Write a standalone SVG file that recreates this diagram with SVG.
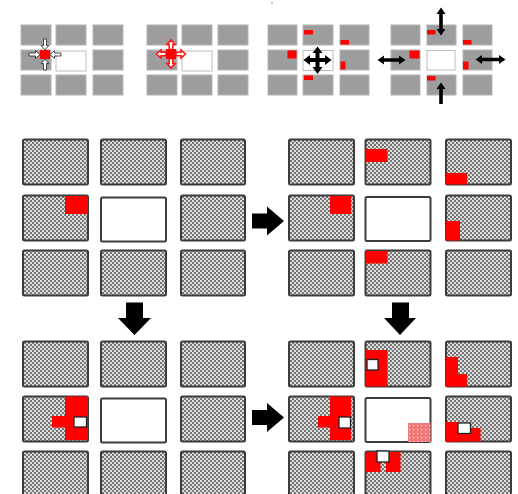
<svg xmlns="http://www.w3.org/2000/svg" xmlns:xlink="http://www.w3.org/1999/xlink" width="518" height="494" viewBox="0 0 518 494">
<defs>
<pattern id="chk" width="4" height="4" patternUnits="userSpaceOnUse">
<rect width="4" height="4" fill="#767676"/>
<rect width="2" height="2" fill="#dedede"/>
<rect x="2" y="2" width="2" height="2" fill="#dedede"/>
</pattern>
<pattern id="pink" width="4" height="4" patternUnits="userSpaceOnUse">
<rect width="4" height="4" fill="#f07a7a"/>
<rect x="1" y="1" width="1.2" height="1.2" fill="#fbd0d0"/>
</pattern>
<path id="inArrow" d="M-11,-1.5 H-4.5 V-3.8 L0,0 L-4.5,3.8 V1.5 H-11 Z"/>
<path id="outArrow" d="M0,-1.8 H5 V-4 L9.5,0 L5,4 V1.8 H0 Z"/>
</defs>
<style>
.t{fill:url(#chk);stroke:#3c3c3c;stroke-width:2}
.w{fill:#fff;stroke:#3c3c3c;stroke-width:2}
.s{fill:#9d9d9d;stroke:#b4b4b4;stroke-width:1}
.sw{fill:#fff;stroke:#bdbdbd;stroke-width:1}
.r{fill:#ff0000}
.ws{fill:#fff;stroke:#222;stroke-width:1.3}
.ia{fill:#fff;stroke:#222;stroke-width:0.8}
.oa{fill:#fff;stroke:#ff1010;stroke-width:1.5}
.ba{fill:#000}
</style>
<rect width="518" height="494" fill="#fff"/>
<circle cx="272" cy="3" r="0.8" fill="#777"/>

<!-- small diagram 1 -->
<g id="mini-1">
<rect class="s" x="21" y="25" width="30" height="20"/>
<rect class="s" x="56" y="25" width="30" height="20"/>
<rect class="s" x="93" y="25" width="30" height="20"/>
<rect class="s" x="21" y="50" width="30" height="20"/>
<rect class="sw" x="56" y="51" width="30" height="20"/>
<rect class="s" x="93" y="50" width="30" height="20"/>
<rect class="s" x="21" y="75" width="30" height="20"/>
<rect class="s" x="56" y="75" width="30" height="20"/>
<rect class="s" x="93" y="75" width="30" height="20"/>
<rect class="r" x="40" y="50" width="10" height="9"/>
<use href="#inArrow" class="ia" transform="translate(40,54.5)"/>
<use href="#inArrow" class="ia" transform="translate(50,54.5) rotate(180)"/>
<use href="#inArrow" class="ia" transform="translate(45,50) rotate(90)"/>
<use href="#inArrow" class="ia" transform="translate(45,59) rotate(-90)"/>
</g>

<!-- small diagram 2 -->
<g id="mini-2">
<rect class="s" x="147" y="25" width="30" height="20"/>
<rect class="s" x="182" y="25" width="30" height="20"/>
<rect class="s" x="218" y="25" width="30" height="20"/>
<rect class="s" x="147" y="50" width="30" height="20"/>
<rect class="sw" x="182" y="51" width="30" height="20"/>
<rect class="s" x="218" y="50" width="30" height="20"/>
<rect class="s" x="147" y="75" width="30" height="20"/>
<rect class="s" x="182" y="75" width="30" height="20"/>
<rect class="s" x="218" y="75" width="30" height="20"/>
<use href="#outArrow" class="oa" transform="translate(176,54)"/>
<use href="#outArrow" class="oa" transform="translate(166,54) rotate(180)"/>
<use href="#outArrow" class="oa" transform="translate(171,49.5) rotate(-90)"/>
<use href="#outArrow" class="oa" transform="translate(171,58.5) rotate(90)"/>
<rect class="r" x="166" y="49" width="10" height="10"/>
</g>

<!-- small diagram 3 -->
<g id="mini-3">
<rect class="s" x="268" y="25" width="29" height="20"/>
<rect class="s" x="303" y="25" width="30" height="20"/>
<rect class="s" x="340" y="25" width="29" height="20"/>
<rect class="s" x="268" y="50" width="29" height="20"/>
<rect class="sw" x="303" y="50.5" width="30" height="20"/>
<rect class="s" x="340" y="50" width="29" height="20"/>
<rect class="s" x="268" y="75" width="29" height="20"/>
<rect class="s" x="303" y="75" width="30" height="20"/>
<rect class="s" x="340" y="75" width="29" height="20"/>
<rect class="r" x="304" y="30" width="9" height="4.5"/>
<rect class="r" x="340.5" y="40" width="8.5" height="4.5"/>
<rect class="r" x="287.5" y="50.5" width="9" height="8"/>
<rect class="r" x="340.5" y="61.5" width="5" height="8"/>
<rect class="r" x="304" y="75.5" width="9" height="4.5"/>
<path class="ba" d="M303.5,60 L310,55 V58 H325 V55 L331.5,60 L325,65 V62 H310 V65 Z"/>
<path class="ba" d="M317.5,46.5 L322.5,53 H319.5 V67 H322.5 L317.5,74 L312.5,67 H315.5 V53 H312.5 Z"/>
</g>

<!-- small diagram 4 -->
<g id="mini-4">
<rect class="s" x="391" y="25" width="29" height="20"/>
<rect class="s" x="427" y="25" width="29" height="20"/>
<rect class="s" x="463" y="25" width="29" height="20"/>
<rect class="s" x="391" y="50" width="29" height="20"/>
<rect class="sw" x="427" y="50.5" width="28" height="19.5"/>
<rect class="s" x="463" y="50" width="29" height="20"/>
<rect class="s" x="391" y="75" width="29" height="20"/>
<rect class="s" x="427" y="75" width="29" height="20"/>
<rect class="s" x="463" y="75" width="29" height="20"/>
<rect class="r" x="427" y="30" width="8.5" height="4.5"/>
<rect class="r" x="463" y="40" width="8.5" height="4.5"/>
<rect class="r" x="409.5" y="50.5" width="10" height="8"/>
<rect class="r" x="463" y="61.5" width="5.5" height="8"/>
<rect class="r" x="427" y="76" width="8.5" height="4.5"/>
<path class="ba" d="M441,7.5 L445.5,14 H442.8 V29 H445.5 L441,35.5 L436.5,29 H439.2 V14 H436.5 Z"/>
<path class="ba" d="M377.5,60 L384,55.5 V58.2 H399 V55.5 L405.5,60 L399,64.5 V61.8 H384 V64.5 Z"/>
<path class="ba" d="M475.5,59.5 L482,55 V57.7 H499 V55 L505.5,59.5 L499,64 V61.3 H482 V64 Z"/>
<path class="ba" d="M441,82.5 L445.5,89 H442.8 V104 H439.2 V89 H436.5 Z"/>
</g>

<!-- big panel A (top left) -->
<g id="panel-a">
<rect class="t" x="23" y="139.5" width="65" height="45" rx="1.5"/>
<rect class="t" x="101" y="139.5" width="65" height="45" rx="1.5"/>
<rect class="t" x="181" y="139.5" width="64" height="45" rx="1.5"/>
<rect class="t" x="23" y="195.5" width="65" height="45" rx="1.5"/>
<rect class="w" x="101" y="197.5" width="65" height="44" rx="1.5"/>
<rect class="t" x="181" y="195.5" width="64" height="45" rx="1.5"/>
<rect class="t" x="23" y="250.5" width="65" height="45" rx="1.5"/>
<rect class="t" x="101" y="250.5" width="65" height="45" rx="1.5"/>
<rect class="t" x="181" y="250.5" width="64" height="45" rx="1.5"/>
<rect class="r" x="65" y="196" width="23" height="18"/>
</g>

<!-- big panel B (top right) -->
<g id="panel-b">
<rect class="t" x="289" y="139.5" width="65" height="45" rx="1.5"/>
<rect class="t" x="365.5" y="139.5" width="65" height="45" rx="1.5"/>
<rect class="t" x="446" y="139.5" width="65" height="45" rx="1.5"/>
<rect class="t" x="289" y="195.5" width="65" height="45" rx="1.5"/>
<rect class="w" x="365.5" y="197" width="65" height="44" rx="1.5"/>
<rect class="t" x="446" y="195.5" width="65" height="45" rx="1.5"/>
<rect class="t" x="289" y="250.5" width="65" height="45" rx="1.5"/>
<rect class="t" x="365.5" y="250.5" width="65" height="45" rx="1.5"/>
<rect class="t" x="446" y="250.5" width="65" height="45" rx="1.5"/>
<rect class="r" x="365.5" y="149" width="22" height="13"/>
<rect class="r" x="446" y="173" width="21" height="11.5"/>
<rect class="r" x="330" y="196" width="21" height="18"/>
<rect class="r" x="446" y="221" width="14" height="19.5"/>
<rect class="r" x="365.5" y="251" width="22" height="12.5"/>
</g>

<!-- big panel C (bottom left) -->
<g id="panel-c">
<rect class="t" x="23" y="341.5" width="65" height="45" rx="1.5"/>
<rect class="t" x="101" y="341.5" width="65" height="45" rx="1.5"/>
<rect class="t" x="181" y="341.5" width="64" height="45" rx="1.5"/>
<rect class="t" x="23" y="396.5" width="65" height="45" rx="1.5"/>
<rect class="w" x="101" y="398.5" width="65" height="44" rx="1.5"/>
<rect class="t" x="181" y="396.5" width="64" height="45" rx="1.5"/>
<rect class="t" x="23" y="451.5" width="65" height="45" rx="1.5"/>
<rect class="t" x="101" y="451.5" width="65" height="45" rx="1.5"/>
<rect class="t" x="181" y="451.5" width="64" height="45" rx="1.5"/>
<rect class="r" x="65" y="396.5" width="23" height="43.5"/>
<rect class="r" x="52" y="416" width="13" height="11.5"/>
<rect class="ws" x="74" y="417" width="12.5" height="10"/>
</g>

<!-- big panel D (bottom right) -->
<g id="panel-d">
<rect class="t" x="289" y="341.5" width="65" height="45" rx="1.5"/>
<rect class="t" x="365.5" y="341.5" width="65" height="45" rx="1.5"/>
<rect class="t" x="446" y="341.5" width="65" height="45" rx="1.5"/>
<rect class="t" x="289" y="396.5" width="65" height="45" rx="1.5"/>
<rect class="w" x="365.5" y="398" width="65" height="44" rx="1.5"/>
<rect class="t" x="446" y="396.5" width="65" height="45" rx="1.5"/>
<rect class="t" x="289" y="451.5" width="65" height="45" rx="1.5"/>
<rect class="t" x="365.5" y="451.5" width="65" height="45" rx="1.5"/>
<rect class="t" x="446" y="451.5" width="65" height="45" rx="1.5"/>
<rect class="r" x="365.5" y="350" width="22" height="36.5"/>
<rect class="ws" x="367" y="359.5" width="11" height="10.5"/>
<rect class="r" x="446" y="357" width="12" height="29.5"/>
<rect class="r" x="446" y="374" width="21" height="12.5"/>
<rect class="r" x="330" y="396.5" width="21" height="43.5"/>
<rect class="r" x="318" y="416" width="12.5" height="11.5"/>
<rect class="ws" x="339" y="417" width="11.5" height="11"/>
<rect fill="url(#pink)" x="408" y="423" width="22.5" height="19"/>
<rect class="r" x="446" y="422" width="12" height="19.5"/>
<rect class="r" x="446" y="428" width="34.5" height="13.5"/>
<rect class="ws" x="458" y="423" width="12.5" height="10.5"/>
<rect class="r" x="365.5" y="452" width="15" height="20"/>
<rect class="r" x="386" y="452" width="14.5" height="20"/>
<rect class="ws" x="377" y="451" width="12" height="11"/>
</g>

<!-- connectors -->
<g id="connectors" class="ba">
<path d="M252,213.5 H267 V206.5 L284,221 L267,235.5 V228.5 H252 Z"/>
<path d="M252,410 H267 V403 L284,417.5 L267,432 V425 H252 Z"/>
<path d="M126,302.5 H143 V318 H151 L134.5,335 L118,318 H126 Z"/>
<path d="M392,302.5 H409 V318 H416 L400,335 L384,318 H392 Z"/>
</g>
</svg>
